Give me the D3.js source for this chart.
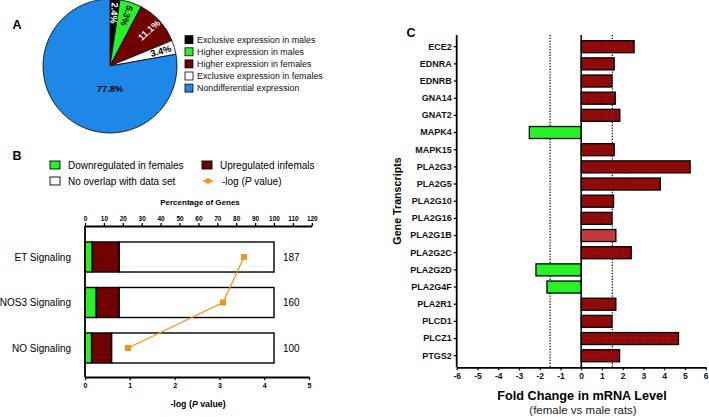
<!DOCTYPE html>
<html><head><meta charset="utf-8">
<script src="https://cdn.jsdelivr.net/npm/d3@7"></script>
<style>
html,body{margin:0;padding:0;background:#fff;}
svg{display:block;font-family:"Liberation Sans",Arial,Helvetica,sans-serif;}
</style></head>
<body><svg id="c" width="709" height="417"></svg>
<script>
// ---------- DATA ----------
// Panel A
const pieCategories = ["Exclusive expression in males","Higher expression in males","Higher expression in females","Exclusive expression in females","Nondifferential expression"];
const pieValues = [2.4, 5.3, 11.1, 3.4, 77.8];
const pieLabels = ["2.4%","5.3%","11.1%","3.4%","77.8%"];

// Panel B
const pathways = ["ET Signaling","NOS3 Signaling","NO Signaling"];
const downPct = [3.9, 6.0, 3.5];
const upPct = [14.2, 12.1, 10.6];
const totalPct = [100, 100, 100];
const geneCounts = ["187","160","100"];
const negLogP = [3.55, 3.08, 0.96];
const pctTicks = [0,10,20,30,40,50,60,70,80,90,100,110,120];
const logPTicks = [0,1,2,3,4,5];
const legendB = ["Downregulated in females","Upregulated infemals","No overlap with data set","-log (P value)"];

// Panel C
const genes = ["ECE2","EDNRA","EDNRB","GNA14","GNAT2","MAPK4","MAPK15","PLA2G3","PLA2G5","PLA2G10","PLA2G16","PLA2G1B","PLA2G2C","PLA2G2D","PLA2G4F","PLA2R1","PLCD1","PLCZ1","PTGS2"];
const foldChange = [2.55,1.59,1.48,1.64,1.86,-2.5,1.59,5.25,3.81,1.56,1.48,1.67,2.41,-2.18,-1.65,1.67,1.48,4.69,1.85];
const foldTicks = [-6,-5,-4,-3,-2,-1,0,1,2,3,4,5,6];
const thresholds = [-1.5, 1.5];

// ---------- DRAW ----------
const svg = d3.select("#c");
const defs = svg.append("defs");
const FONT = '"Liberation Sans",Arial,Helvetica,sans-serif';
const plain = d => String(d);

// patterns
function dotPattern(id, base, dot, size) {
  const p = defs.append("pattern").attr("id", id).attr("patternUnits","userSpaceOnUse")
    .attr("width", size).attr("height", size);
  p.append("rect").attr("width", size).attr("height", size).attr("fill", base);
  p.append("rect").attr("width", 1).attr("height", 1).attr("fill", dot);
  p.append("rect").attr("x", size/2).attr("y", size/2).attr("width", 1).attr("height", 1).attr("fill", dot);
  return `url(#${id})`;
}
const darkRed = dotPattern("pDark", "#960000", "#2a0000", 2.4);
const hatchRed = dotPattern("pHatch", "#b40c0c", "#3a0000", 2.6);

const GREEN = "#27f227";
const BLUE = "#1e88e8";
const ORANGE = "#f7921e";

// ===== Panel A =====
svg.append("text").attr("x", 17).attr("y", 29).attr("font-size", 12.5).attr("font-weight", "bold")
  .attr("text-anchor", "middle").text("A");

const pieCx = 110, pieCy = 66, pieR = 67;
const pieFills = ["#000000", GREEN, darkRed, "#ffffff", BLUE];
const pie = d3.pie().sort(null).value(d => d)(pieValues);
const arc = d3.arc().innerRadius(0).outerRadius(pieR);
const gA = svg.append("g").attr("transform", `translate(${pieCx},${pieCy})`);
gA.selectAll("path").data(pie).join("path")
  .attr("d", arc).attr("fill", (d,i) => pieFills[i])
  .attr("stroke", "#000").attr("stroke-width", 0.8);
const labelColors = ["#fff","#000","#fff","#000","#000"];
gA.selectAll("text.pl").data(pie).join("text").attr("class","pl")
  .attr("font-size", 9.3).attr("font-weight", "bold").attr("fill", (d,i) => labelColors[i])
  .attr("text-anchor", "middle").attr("dominant-baseline", "central")
  .attr("transform", (d,i) => {
    const a = (d.startAngle + d.endAngle) / 2;
    const deg = a * 180 / Math.PI;
    if (i === 4) return `translate(0,23)`;
    const r = 53;
    const x = Math.sin(a) * r, y = -Math.cos(a) * r;
    const rot = deg < 30 ? deg + 90 : deg - 90;
    return `translate(${x},${y}) rotate(${rot})`;
  })
  .text((d,i) => pieLabels[i]);

// legend A
const legA = svg.append("g");
pieCategories.forEach((c, i) => {
  const y = 39.7 + i * 12.1;
  legA.append("rect").attr("x", 185).attr("y", y - 4).attr("width", 8).attr("height", 8)
    .attr("fill", pieFills[i]).attr("stroke", "#000").attr("stroke-width", 0.8);
  legA.append("text").attr("x", 197).attr("y", y).attr("dominant-baseline", "central")
    .attr("font-size", 8.9).attr("fill", "#111").text(c);
});

// ===== Panel B =====
svg.append("text").attr("x", 17).attr("y", 160).attr("font-size", 12.5).attr("font-weight", "bold")
  .attr("text-anchor", "middle").text("B");

// legend B
const legB = svg.append("g").attr("font-size", 10);
[[50,165,GREEN,legendB[0]],[202,165,darkRed,legendB[1]],[50,181,"#fff",legendB[2]]].forEach(([x,y,f,t]) => {
  legB.append("rect").attr("x", x).attr("y", y-4).attr("width", 10).attr("height", 8)
    .attr("fill", f).attr("stroke", "#000").attr("stroke-width", 0.9);
  legB.append("text").attr("x", x + 18).attr("y", y).attr("dominant-baseline", "central").text(t);
});
legB.append("line").attr("x1", 203).attr("x2", 213).attr("y1", 181).attr("y2", 181)
  .attr("stroke", ORANGE).attr("stroke-width", 1.5);
legB.append("rect").attr("x", 205.5).attr("y", 178.5).attr("width", 5).attr("height", 5).attr("fill", ORANGE);
const lt = legB.append("text").attr("x", 222).attr("y", 181).attr("dominant-baseline", "central");
lt.append("tspan").text("-log (");
lt.append("tspan").attr("font-style", "italic").text("P");
lt.append("tspan").text(" value)");

const xPct = d3.scaleLinear().domain([0, 120]).range([85, 311.8]);
const xLogP = d3.scaleLinear().domain([0, 5]).range([85, 309]);
const yB = d3.scaleBand().domain(pathways).range([234.25, 370.75]).paddingInner(0.34).paddingOuter(0.17);
const bTop = 226, bBot = 377;

const gB = svg.append("g");
pathways.forEach((p, i) => {
  const y = yB(p), h = yB.bandwidth();
  const segs = [[0, downPct[i], GREEN], [downPct[i], downPct[i] + upPct[i], darkRed], [downPct[i] + upPct[i], totalPct[i], "#fff"]];
  segs.forEach(([a, b, f]) => {
    gB.append("rect").attr("x", xPct(a)).attr("y", y).attr("width", xPct(b) - xPct(a)).attr("height", h)
      .attr("fill", f).attr("stroke", "#000").attr("stroke-width", 1.4);
  });
  gB.append("text").attr("x", xPct(totalPct[i]) + 9).attr("y", y + h/2).attr("dominant-baseline", "central")
    .attr("font-size", 10).text(geneCounts[i]);
  gB.append("text").attr("x", 71).attr("y", y + h/2).attr("dominant-baseline", "central")
    .attr("text-anchor", "end").attr("font-size", 10).text(p);
});

// line for -log P
const lineB = d3.line().x(d => xLogP(d[0])).y(d => yB(d[1]) + yB.bandwidth()/2);
const pts = negLogP.map((v, i) => [v, pathways[i]]);
gB.append("path").attr("d", lineB(pts)).attr("fill", "none").attr("stroke", ORANGE).attr("stroke-width", 1.3);
gB.selectAll("rect.m").data(pts).join("rect").attr("class","m")
  .attr("x", d => xLogP(d[0]) - 3).attr("y", d => yB(d[1]) + yB.bandwidth()/2 - 3)
  .attr("width", 6).attr("height", 6).attr("fill", ORANGE);

// axes B
const axTop = svg.append("g").attr("transform", `translate(0,${bTop})`)
  .call(d3.axisTop(xPct).tickValues(pctTicks).tickFormat(plain).tickSize(3).tickSizeOuter(0).tickPadding(2));
axTop.selectAll("text").attr("font-size", 6.5).attr("font-weight", "bold").attr("font-family", FONT);
const axBot = svg.append("g").attr("transform", `translate(0,${bBot})`)
  .call(d3.axisBottom(xLogP).tickValues(logPTicks).tickFormat(plain).tickSize(3).tickSizeOuter(0).tickPadding(3));
axBot.selectAll("text").attr("font-size", 7).attr("font-weight", "bold").attr("font-family", FONT);
[axTop, axBot].forEach(a => { a.select(".domain").attr("stroke-width", 1.8); a.selectAll(".tick line").attr("stroke-width", 1.3); });
svg.append("line").attr("x1", 85).attr("x2", 85).attr("y1", bTop).attr("y2", bBot)
  .attr("stroke", "#000").attr("stroke-width", 1.8);
svg.append("text").attr("x", 200).attr("y", 204.5).attr("text-anchor", "middle")
  .attr("font-size", 8).attr("font-weight", "bold").text("Percentage of Genes");
const bt = svg.append("text").attr("x", 198).attr("y", 407).attr("text-anchor", "middle")
  .attr("font-size", 8.8).attr("font-weight", "bold");
bt.append("tspan").text("-log (");
bt.append("tspan").attr("font-style", "italic").text("P");
bt.append("tspan").text(" value)");

// ===== Panel C =====
svg.append("text").attr("x", 411).attr("y", 37).attr("font-size", 12.5).attr("font-weight", "bold")
  .attr("text-anchor", "middle").text("C");

const xC = d3.scaleLinear().domain([-6, 6]).range([456.7, 705.7]);
const yC = d3.scaleBand().domain(genes).range([38.1, 364.3]).paddingInner(0.3).paddingOuter(0.15);
const cTop = 35, cBot = 367.3;
const gC = svg.append("g");

// thresholds
thresholds.forEach(t => {
  gC.append("line").attr("x1", xC(t)).attr("x2", xC(t)).attr("y1", cTop).attr("y2", cBot)
    .attr("stroke", "#000").attr("stroke-width", 1.2).attr("stroke-dasharray", "1.3,1.5");
});

gC.selectAll("rect.bar").data(genes).join("rect").attr("class","bar")
  .attr("x", (g,i) => xC(Math.min(0, foldChange[i])))
  .attr("y", g => yC(g))
  .attr("width", (g,i) => Math.abs(xC(foldChange[i]) - xC(0)))
  .attr("height", yC.bandwidth())
  .attr("fill", (g,i) => foldChange[i] < 0 ? GREEN : (g === "PLA2G1B" ? "#c23a3a" : hatchRed))
  .attr("stroke", "#000").attr("stroke-width", 1.3);

// zero line
gC.append("line").attr("x1", xC(0)).attr("x2", xC(0)).attr("y1", cTop).attr("y2", cBot)
  .attr("stroke", "#000").attr("stroke-width", 1.5);

const axL = svg.append("g").attr("transform", `translate(${xC(-6)},0)`)
  .call(d3.axisLeft(yC).tickSize(3).tickSizeOuter(0).tickPadding(2));
axL.select(".domain").remove();
axL.selectAll("text").attr("font-size", 9).attr("font-weight", "bold").attr("font-family", FONT).attr("fill", "#111");
axL.selectAll(".tick line").attr("stroke-width", 1.2);
svg.append("line").attr("x1", xC(-6)).attr("x2", xC(-6)).attr("y1", cTop).attr("y2", cBot)
  .attr("stroke", "#000").attr("stroke-width", 1.8);

const axCB = svg.append("g").attr("transform", `translate(0,${cBot})`)
  .call(d3.axisBottom(xC).tickValues(foldTicks).tickFormat(plain).tickSize(3).tickSizeOuter(0).tickPadding(3));
axCB.select(".domain").attr("stroke-width", 1.8);
axCB.selectAll(".tick line").attr("stroke-width", 1.2);
axCB.selectAll("text").attr("font-size", 8.5).attr("font-weight", "bold").attr("font-family", FONT).attr("fill", "#111");

svg.append("text").attr("x", 582).attr("y", 400).attr("text-anchor", "middle")
  .attr("font-size", 12.7).attr("font-weight", "bold").text("Fold Change in mRNA Level");
svg.append("text").attr("x", 583).attr("y", 414).attr("text-anchor", "middle")
  .attr("font-size", 11.5).attr("fill", "#222").text("(female vs male rats)");
svg.append("text").attr("transform", "translate(401,201) rotate(-90)").attr("text-anchor", "middle")
  .attr("font-size", 10.7).attr("font-weight", "bold").text("Gene Transcripts");
</script></body></html>
